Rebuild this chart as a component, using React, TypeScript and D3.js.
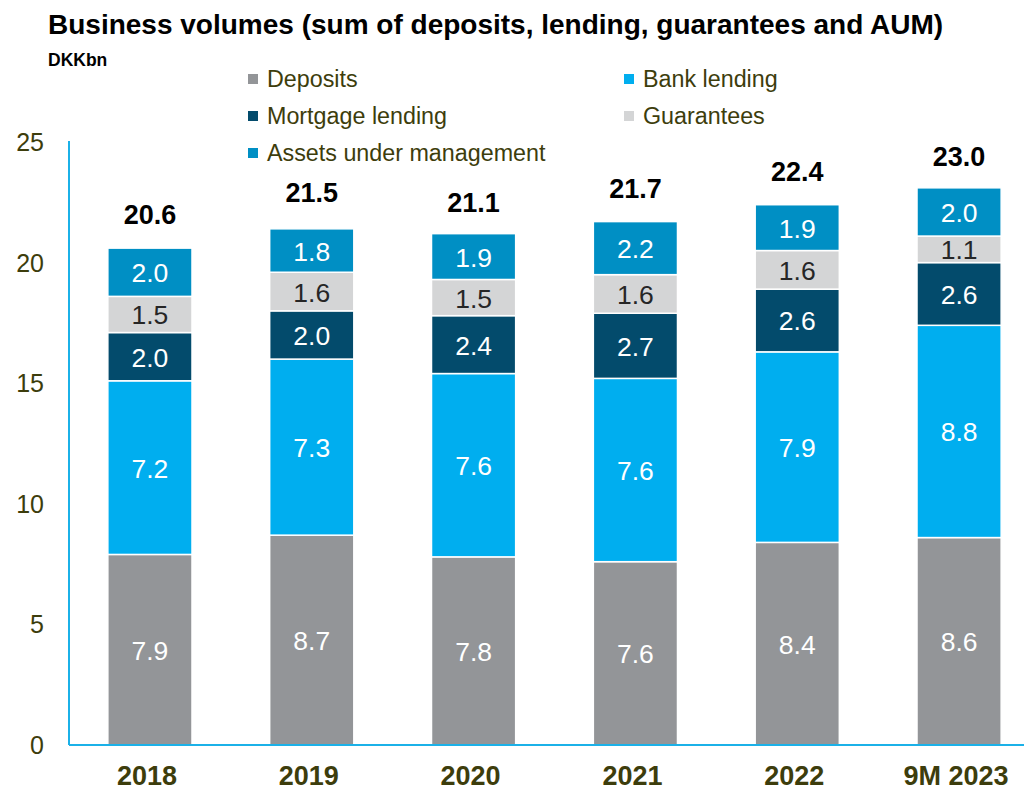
import React from "react";
import * as d3 from "d3";

const categories = ["2018", "2019", "2020", "2021", "2022", "9M 2023"];
const deposits = [7.9, 8.7, 7.8, 7.6, 8.4, 8.6];
const bankLending = [7.2, 7.3, 7.6, 7.6, 7.9, 8.8];
const mortgageLending = [2.0, 2.0, 2.4, 2.7, 2.6, 2.6];
const guarantees = [1.5, 1.6, 1.5, 1.6, 1.6, 1.1];
const aum = [2.0, 1.8, 1.9, 2.2, 1.9, 2.0];
const totals = [20.6, 21.5, 21.1, 21.7, 22.4, 23.0];
const yTicks = [0, 5, 10, 15, 20, 25];

const seriesNames = ["Deposits", "Bank lending", "Mortgage lending", "Guarantees", "Assets under management"];
const seriesValues = [deposits, bankLending, mortgageLending, guarantees, aum];
const seriesColors = ["#939598", "#00AEEF", "#034B6C", "#D4D5D6", "#008FC4"];
const labelColors = ["#fff", "#fff", "#fff", "#262626", "#fff"];

export default function App() {
  const W = 1024, H = 790;
  const x0 = 69, x1 = 1040;
  const y = d3.scaleLinear().domain([0, 25]).range([745, 142]);
  const x = d3.scaleBand().domain(categories).range([x0, x1]).paddingInner(0.48).paddingOuter(0.24);
  const textCol = "#3d3d0c";
  const font = "'Liberation Sans', Arial, sans-serif";

  const segs: any[] = [];
  categories.forEach((c, i) => {
    let acc = 0;
    seriesValues.forEach((vals, s) => {
      const v = vals[i];
      segs.push({ c, s, v, y0: acc, y1: acc + v });
      acc += v;
    });
  });

  const legendPos = [
    [248, 79], [624, 79], [248, 116], [624, 116], [248, 153],
  ];

  return (
    <svg width={W} height={H} style={{ position: "absolute", left: 0, top: 0 }} fontFamily={font}>
      <text x={48} y={34} fontSize={28} fontWeight="bold" fill="#000">
        Business volumes (sum of deposits, lending, guarantees and AUM)
      </text>
      <text x={48} y={66} fontSize={17.5} fontWeight="bold" fill="#000">DKKbn</text>

      {seriesNames.map((n, i) => (
        <g key={n}>
          <rect x={legendPos[i][0]} y={legendPos[i][1] - 5} width={10} height={10} fill={seriesColors[i]} />
          <text x={legendPos[i][0] + 19} y={legendPos[i][1] + 8} fontSize={23.3} fill={textCol}>{n}</text>
        </g>
      ))}

      {yTicks.map((t) => (
        <text key={t} x={44} y={y(t) + 9} fontSize={25} fill={textCol} textAnchor="end">{t}</text>
      ))}

      {segs.map((d, k) => {
        const top = y(d.y1), bot = y(d.y0);
        const bx = x(d.c)!;
        return (
          <g key={k}>
            <rect x={bx} y={top} width={x.bandwidth()} height={bot - top} fill={seriesColors[d.s]}
              stroke="#fff" strokeWidth={1.5} />
            <text x={bx + x.bandwidth() / 2} y={(top + bot) / 2 + 10} fontSize={26.5} fill={labelColors[d.s]}
              textAnchor="middle">{d.v.toFixed(1)}</text>
          </g>
        );
      })}

      {categories.map((c, i) => (
        <text key={c} x={x(c)! + x.bandwidth() / 2} y={y(totals[i]) - 24} fontSize={27} fontWeight="bold"
          fill="#000" textAnchor="middle">{totals[i].toFixed(1)}</text>
      ))}

      <line x1={x0} x2={x0} y1={141} y2={745} stroke="#1BB1E8" strokeWidth={2} />
      <line x1={x0} x2={W} y1={745} y2={745} stroke="#1BB1E8" strokeWidth={2} />

      {categories.map((c) => (
        <text key={c} x={x(c)! + x.bandwidth() / 2 - 3} y={785} fontSize={27} fontWeight="bold" fill={textCol}
          textAnchor="middle">{c}</text>
      ))}
    </svg>
  );
}
